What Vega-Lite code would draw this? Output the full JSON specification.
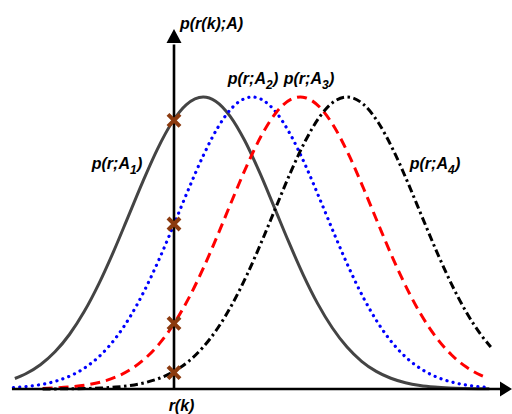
{
  "$schema": "https://vega.github.io/schema/vega-lite/v6.json",
  "width": 512,
  "height": 414,
  "autosize": {"type": "none"},
  "padding": 0,
  "background": "white",
  "config": {"view": {"stroke": null}},
  "datasets": {
    "curves": [
      {"curve": "A1", "r": -2.18, "p": 0.0359}, {"curve": "A1", "r": -2.03, "p": 0.0522}, {"curve": "A1", "r": -1.83, "p": 0.0832}, {"curve": "A1", "r": -1.63, "p": 0.1274}, {"curve": "A1", "r": -1.43, "p": 0.1875}, {"curve": "A1", "r": -1.23, "p": 0.265}, {"curve": "A1", "r": -1.03, "p": 0.3599}, {"curve": "A1", "r": -0.83, "p": 0.4695}, {"curve": "A1", "r": -0.63, "p": 0.5886}, {"curve": "A1", "r": -0.43, "p": 0.7085}, {"curve": "A1", "r": -0.23, "p": 0.82}, {"curve": "A1", "r": -0.03, "p": 0.9117}, {"curve": "A1", "r": 0.17, "p": 0.9739}, {"curve": "A1", "r": 0.4, "p": 1.0}, {"curve": "A1", "r": 0.57, "p": 0.9857}, {"curve": "A1", "r": 0.77, "p": 0.9338}, {"curve": "A1", "r": 0.97, "p": 0.85}, {"curve": "A1", "r": 1.17, "p": 0.7434}, {"curve": "A1", "r": 1.37, "p": 0.6247}, {"curve": "A1", "r": 1.57, "p": 0.5044}, {"curve": "A1", "r": 1.77, "p": 0.3912}, {"curve": "A1", "r": 1.97, "p": 0.2916}, {"curve": "A1", "r": 2.17, "p": 0.2088}, {"curve": "A1", "r": 2.37, "p": 0.1436}, {"curve": "A1", "r": 2.57, "p": 0.0949}, {"curve": "A1", "r": 2.77, "p": 0.0603}, {"curve": "A1", "r": 2.97, "p": 0.0368}, {"curve": "A1", "r": 3.17, "p": 0.0216}, {"curve": "A1", "r": 3.37, "p": 0.0121}, {"curve": "A1", "r": 3.57, "p": 0.0066}, {"curve": "A1", "r": 3.77, "p": 0.0034}, {"curve": "A1", "r": 3.97, "p": 0.0017}, {"curve": "A1", "r": 4.17, "p": 0.0008}, {"curve": "A1", "r": 4.32, "p": 0.0005},

      {"curve": "A2", "r": -2.2, "p": 0.0048}, {"curve": "A2", "r": -2.0, "p": 0.009}, {"curve": "A2", "r": -1.8, "p": 0.0163}, {"curve": "A2", "r": -1.6, "p": 0.0283}, {"curve": "A2", "r": -1.4, "p": 0.0474}, {"curve": "A2", "r": -1.2, "p": 0.0761}, {"curve": "A2", "r": -1.0, "p": 0.1174}, {"curve": "A2", "r": -0.8, "p": 0.1741}, {"curve": "A2", "r": -0.6, "p": 0.2481}, {"curve": "A2", "r": -0.4, "p": 0.3396}, {"curve": "A2", "r": -0.2, "p": 0.4464}, {"curve": "A2", "r": 0.0, "p": 0.5641}, {"curve": "A2", "r": 0.2, "p": 0.6849}, {"curve": "A2", "r": 0.4, "p": 0.7989}, {"curve": "A2", "r": 0.6, "p": 0.8954}, {"curve": "A2", "r": 0.8, "p": 0.9642}, {"curve": "A2", "r": 1.07, "p": 1.0}, {"curve": "A2", "r": 1.2, "p": 0.9916}, {"curve": "A2", "r": 1.4, "p": 0.947}, {"curve": "A2", "r": 1.6, "p": 0.869}, {"curve": "A2", "r": 1.8, "p": 0.7661}, {"curve": "A2", "r": 2.0, "p": 0.6489}, {"curve": "A2", "r": 2.2, "p": 0.5281}, {"curve": "A2", "r": 2.4, "p": 0.4129}, {"curve": "A2", "r": 2.6, "p": 0.3102}, {"curve": "A2", "r": 2.8, "p": 0.2239}, {"curve": "A2", "r": 3.0, "p": 0.1553}, {"curve": "A2", "r": 3.2, "p": 0.1035}, {"curve": "A2", "r": 3.4, "p": 0.0662}, {"curve": "A2", "r": 3.6, "p": 0.0407}, {"curve": "A2", "r": 3.8, "p": 0.0241}, {"curve": "A2", "r": 4.0, "p": 0.0137}, {"curve": "A2", "r": 4.2, "p": 0.0075}, {"curve": "A2", "r": 4.32, "p": 0.0048},

      {"curve": "A3", "r": -1.8, "p": 0.002}, {"curve": "A3", "r": -1.6, "p": 0.0039}, {"curve": "A3", "r": -1.4, "p": 0.0075}, {"curve": "A3", "r": -1.2, "p": 0.0137}, {"curve": "A3", "r": -1.0, "p": 0.0241}, {"curve": "A3", "r": -0.8, "p": 0.0407}, {"curve": "A3", "r": -0.6, "p": 0.0662}, {"curve": "A3", "r": -0.4, "p": 0.1035}, {"curve": "A3", "r": -0.2, "p": 0.1553}, {"curve": "A3", "r": 0.0, "p": 0.2239}, {"curve": "A3", "r": 0.2, "p": 0.3102}, {"curve": "A3", "r": 0.4, "p": 0.4129}, {"curve": "A3", "r": 0.6, "p": 0.5281}, {"curve": "A3", "r": 0.8, "p": 0.6489}, {"curve": "A3", "r": 1.0, "p": 0.7661}, {"curve": "A3", "r": 1.2, "p": 0.869}, {"curve": "A3", "r": 1.4, "p": 0.947}, {"curve": "A3", "r": 1.6, "p": 0.9916}, {"curve": "A3", "r": 1.73, "p": 1.0}, {"curve": "A3", "r": 1.8, "p": 0.9976}, {"curve": "A3", "r": 2.0, "p": 0.9642}, {"curve": "A3", "r": 2.2, "p": 0.8954}, {"curve": "A3", "r": 2.4, "p": 0.7989}, {"curve": "A3", "r": 2.6, "p": 0.6849}, {"curve": "A3", "r": 2.8, "p": 0.5641}, {"curve": "A3", "r": 3.0, "p": 0.4464}, {"curve": "A3", "r": 3.2, "p": 0.3396}, {"curve": "A3", "r": 3.4, "p": 0.2481}, {"curve": "A3", "r": 3.6, "p": 0.1741}, {"curve": "A3", "r": 3.8, "p": 0.1174}, {"curve": "A3", "r": 4.0, "p": 0.0761}, {"curve": "A3", "r": 4.2, "p": 0.0474}, {"curve": "A3", "r": 4.3, "p": 0.0368},

      {"curve": "A4", "r": -1.8, "p": 0.0002}, {"curve": "A4", "r": -1.6, "p": 0.0004}, {"curve": "A4", "r": -1.4, "p": 0.0008}, {"curve": "A4", "r": -1.2, "p": 0.0017}, {"curve": "A4", "r": -1.0, "p": 0.0034}, {"curve": "A4", "r": -0.8, "p": 0.0066}, {"curve": "A4", "r": -0.6, "p": 0.0121}, {"curve": "A4", "r": -0.4, "p": 0.0216}, {"curve": "A4", "r": -0.2, "p": 0.0368}, {"curve": "A4", "r": 0.0, "p": 0.0603}, {"curve": "A4", "r": 0.2, "p": 0.0949}, {"curve": "A4", "r": 0.4, "p": 0.1436}, {"curve": "A4", "r": 0.6, "p": 0.2088}, {"curve": "A4", "r": 0.8, "p": 0.2916}, {"curve": "A4", "r": 1.0, "p": 0.3912}, {"curve": "A4", "r": 1.2, "p": 0.5044}, {"curve": "A4", "r": 1.4, "p": 0.6247}, {"curve": "A4", "r": 1.6, "p": 0.7434}, {"curve": "A4", "r": 1.8, "p": 0.85}, {"curve": "A4", "r": 2.0, "p": 0.9338}, {"curve": "A4", "r": 2.2, "p": 0.9857}, {"curve": "A4", "r": 2.37, "p": 1.0}, {"curve": "A4", "r": 2.6, "p": 0.9739}, {"curve": "A4", "r": 2.8, "p": 0.9117}, {"curve": "A4", "r": 3.0, "p": 0.82}, {"curve": "A4", "r": 3.2, "p": 0.7085}, {"curve": "A4", "r": 3.4, "p": 0.5886}, {"curve": "A4", "r": 3.6, "p": 0.4695}, {"curve": "A4", "r": 3.8, "p": 0.3599}, {"curve": "A4", "r": 4.0, "p": 0.265}, {"curve": "A4", "r": 4.2, "p": 0.1875}, {"curve": "A4", "r": 4.34, "p": 0.1436}
    ],
    "samples": [
      {"r": 0, "p": 0.92}, {"r": 0, "p": 0.565}, {"r": 0, "p": 0.225}, {"r": 0, "p": 0.056}
    ],
    "labels": [
      {"r": -0.603, "p": 0.755, "main": "p(r;A", "sub": "1"},
      {"r": 1.26, "p": 1.046, "main": "p(r;A", "sub": "2"},
      {"r": 2.027, "p": 1.046, "main": "p(r;A", "sub": "3"},
      {"r": 3.753, "p": 0.755, "main": "p(r;A", "sub": "4"}
    ],
    "axes": [
      {"r": -2.22, "r2": 4.47, "p": 0, "p2": 0},
      {"r": 0, "r2": 0, "p": 0, "p2": 1.18}
    ]
  },
  "layer": [
    {
      "data": {"name": "curves"},
      "transform": [{"filter": "datum.curve === 'A1'"}],
      "mark": {"type": "line", "interpolate": "monotone", "stroke": "#444444", "strokeWidth": 3},
      "encoding": {
        "x": {"field": "r", "type": "quantitative", "scale": {"domain": [-2.3836, 4.6301], "nice": false, "zero": false}, "axis": null},
        "y": {"field": "p", "type": "quantitative", "scale": {"domain": [-0.08562, 1.33219], "nice": false, "zero": false}, "axis": null},
        "order": {"field": "r", "type": "quantitative"}
      }
    },
    {
      "data": {"name": "curves"},
      "transform": [{"filter": "datum.curve === 'A2'"}],
      "mark": {"type": "line", "interpolate": "monotone", "stroke": "#0000ff", "strokeWidth": 3.2, "strokeCap": "round", "strokeDash": [0.1, 6.2]},
      "encoding": {
        "x": {"field": "r", "type": "quantitative", "axis": null},
        "y": {"field": "p", "type": "quantitative", "axis": null},
        "order": {"field": "r", "type": "quantitative"}
      }
    },
    {
      "data": {"name": "curves"},
      "transform": [{"filter": "datum.curve === 'A3'"}],
      "mark": {"type": "line", "interpolate": "monotone", "stroke": "#ff0000", "strokeWidth": 3, "strokeDash": [10, 6]},
      "encoding": {
        "x": {"field": "r", "type": "quantitative", "axis": null},
        "y": {"field": "p", "type": "quantitative", "axis": null},
        "order": {"field": "r", "type": "quantitative"}
      }
    },
    {
      "data": {"name": "curves"},
      "transform": [{"filter": "datum.curve === 'A4'"}],
      "mark": {"type": "line", "interpolate": "monotone", "stroke": "#000000", "strokeWidth": 3, "strokeDash": [8, 3.5, 2.5, 3.5]},
      "encoding": {
        "x": {"field": "r", "type": "quantitative", "axis": null},
        "y": {"field": "p", "type": "quantitative", "axis": null},
        "order": {"field": "r", "type": "quantitative"}
      }
    },
    {
      "data": {"name": "axes"},
      "mark": {"type": "rule", "stroke": "#000000", "strokeWidth": 2.6},
      "encoding": {
        "x": {"field": "r", "type": "quantitative", "axis": null},
        "x2": {"field": "r2"},
        "y": {"field": "p", "type": "quantitative", "axis": null},
        "y2": {"field": "p2"}
      }
    },
    {
      "data": {"values": [{"r": 4.527, "p": 0}]},
      "mark": {"type": "point", "shape": "M1,0L-0.6,-1L-0.6,1Z", "filled": true, "fill": "#000000", "stroke": null, "size": 225, "opacity": 1},
      "encoding": {
        "x": {"field": "r", "type": "quantitative", "axis": null},
        "y": {"field": "p", "type": "quantitative", "axis": null}
      }
    },
    {
      "data": {"values": [{"r": 0, "p": 1.207}]},
      "mark": {"type": "point", "shape": "M0,-1L-1,0.87L1,0.87Z", "filled": true, "fill": "#000000", "stroke": null, "size": 225, "opacity": 1},
      "encoding": {
        "x": {"field": "r", "type": "quantitative", "axis": null},
        "y": {"field": "p", "type": "quantitative", "axis": null}
      }
    },
    {
      "data": {"name": "samples"},
      "mark": {"type": "point", "shape": "M-1,-1L1,1M-1,1L1,-1", "filled": false, "stroke": "#8b3a0f", "strokeWidth": 4, "size": 144, "opacity": 1},
      "encoding": {
        "x": {"field": "r", "type": "quantitative", "axis": null},
        "y": {"field": "p", "type": "quantitative", "axis": null}
      }
    },
    {
      "data": {"name": "labels"},
      "mark": {"type": "text", "align": "right", "baseline": "alphabetic", "font": "Liberation Sans", "fontSize": 16, "fontStyle": "italic", "fontWeight": "bold", "color": "#000000"},
      "encoding": {
        "x": {"field": "r", "type": "quantitative", "axis": null},
        "y": {"field": "p", "type": "quantitative", "axis": null},
        "text": {"field": "main"}
      }
    },
    {
      "data": {"name": "labels"},
      "mark": {"type": "text", "align": "left", "baseline": "alphabetic", "dx": 0, "dy": 5, "font": "Liberation Sans", "fontSize": 12, "fontStyle": "italic", "fontWeight": "bold", "color": "#000000"},
      "encoding": {
        "x": {"field": "r", "type": "quantitative", "axis": null},
        "y": {"field": "p", "type": "quantitative", "axis": null},
        "text": {"field": "sub"}
      }
    },
    {
      "data": {"name": "labels"},
      "mark": {"type": "text", "align": "left", "baseline": "alphabetic", "dx": 7, "text": ")", "font": "Liberation Sans", "fontSize": 16, "fontStyle": "italic", "fontWeight": "bold", "color": "#000000"},
      "encoding": {
        "x": {"field": "r", "type": "quantitative", "axis": null},
        "y": {"field": "p", "type": "quantitative", "axis": null}
      }
    },
    {
      "data": {"values": [{"r": 0.082, "p": 1.233, "t": "p(r(k);A)"}]},
      "mark": {"type": "text", "align": "left", "baseline": "alphabetic", "font": "Liberation Sans", "fontSize": 16, "fontStyle": "italic", "fontWeight": "bold", "color": "#000000"},
      "encoding": {
        "x": {"field": "r", "type": "quantitative", "axis": null},
        "y": {"field": "p", "type": "quantitative", "axis": null},
        "text": {"field": "t"}
      }
    },
    {
      "data": {"values": [{"r": 0.103, "p": -0.0753, "t": "r(k)"}]},
      "mark": {"type": "text", "align": "center", "baseline": "alphabetic", "font": "Liberation Sans", "fontSize": 16, "fontStyle": "italic", "fontWeight": "bold", "color": "#000000"},
      "encoding": {
        "x": {"field": "r", "type": "quantitative", "axis": null},
        "y": {"field": "p", "type": "quantitative", "axis": null},
        "text": {"field": "t"}
      }
    }
  ]
}
